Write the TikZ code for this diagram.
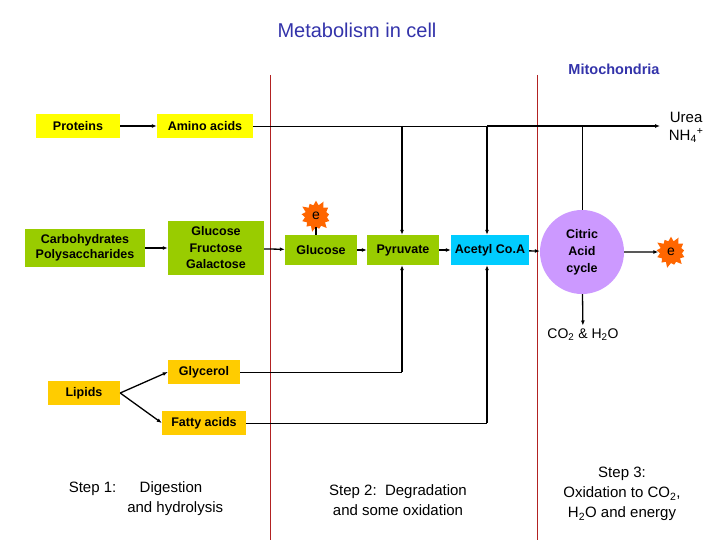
\documentclass[tikz,border=0pt]{standalone}
\usepackage{fontspec}
\setmainfont{Liberation Sans}
\usetikzlibrary{shapes.symbols,arrows.meta}
\definecolor{ttl}{HTML}{3333AA}
\definecolor{yel}{HTML}{FFFF00}
\definecolor{grn}{HTML}{99CC00}
\definecolor{cya}{HTML}{00CCFF}
\definecolor{lav}{HTML}{CC99FF}
\definecolor{org}{HTML}{FF6600}
\definecolor{gld}{HTML}{FFCC00}
\definecolor{rl}{HTML}{B22222}
\begin{document}
\begin{tikzpicture}[x=1pt,y=-1pt,
 box/.style={draw=none,inner sep=0pt,align=center,font=\fontsize{12.5}{14.5}\selectfont\bfseries},
 ar/.style={-{Latex[length=5pt,width=4pt]},line width=1.3pt},
 ln/.style={line width=0.8pt},
 star/.style={starburst,starburst points=13,starburst point height=6pt,fill=org,draw=none,minimum size=34pt,inner sep=0pt,font=\fontsize{14}{16}\selectfont},
 txt/.style={align=center,font=\fontsize{14}{16}\selectfont}]
\useasboundingbox (0,0) rectangle (720,540);
\draw[rl,line width=0.6pt] (270,75) -- (270,540);
\draw[rl,line width=0.6pt] (537,75) -- (537,540);
\node[text=ttl,font=\fontsize{20}{24}\selectfont] (title) at (357,30) {Metabolism in cell};
\node[text=ttl,font=\fontsize{14.5}{17}\selectfont\bfseries] (mito) at (614,69) {Mitochondria};
\node[box,fill=yel,minimum width=84,minimum height=24] (prot) at (78,126) {Proteins};
\node[box,fill=yel,minimum width=96,minimum height=24] (amino) at (205,126) {Amino acids};
\node[box,fill=grn,minimum width=120,minimum height=38] (carb) at (85,248) {Carbohydrates\\Polysaccharides};
\node[box,fill=grn,minimum width=96,minimum height=54,font=\fontsize{12.5}{16.5}\selectfont\bfseries] (gfg) at (216,248) {Glucose\\Fructose\\Galactose};
\node[box,fill=grn,minimum width=72,minimum height=30] (glu) at (321,250) {Glucose};
\node[box,fill=grn,minimum width=72,minimum height=30] (pyr) at (403,250) {Pyruvate};
\node[box,fill=cya,minimum width=78,minimum height=30] (acc) at (490,250) {Acetyl Co.A};
\node[box,circle,fill=lav,minimum size=84,font=\fontsize{12.5}{17}\selectfont\bfseries] (cac) at (582,252) {Citric\\Acid\\cycle};
\node[star] (e1) at (316,216) {e};
\node[star] (e2) at (671,252) {e};
\node[txt] (co2) at (583,335) {CO\textsubscript{2} \& H\textsubscript{2}O};
\node[txt,anchor=east,font=\fontsize{15}{18}\selectfont] (urea) at (707,127) {Urea\\NH\textsubscript{4}\textsuperscript{+}};
\node[box,fill=gld,minimum width=72,minimum height=24] (lip) at (84,393) {Lipids};
\node[box,fill=gld,minimum width=72,minimum height=24] (gly) at (204,372) {Glycerol};
\node[box,fill=gld,minimum width=84,minimum height=24] (fat) at (204,423) {Fatty acids};
\node[txt,font=\fontsize{15}{20}\selectfont,align=left] (s1) at (146,499) {Step 1:\quad\ \ Digestion\\\hspace{3.9em}and hydrolysis};
\node[txt,font=\fontsize{15}{20}\selectfont] (s2) at (398,500) {Step 2:\ \ Degradation\\and some oxidation};
\node[txt,font=\fontsize{15}{20}\selectfont] (s3) at (622,494) {Step 3:\\Oxidation to CO\textsubscript{2},\\H\textsubscript{2}O and energy};
\coordinate (j1) at (402,126);
\coordinate (j2) at (487,126);
\coordinate (u) at (660,126);
\draw[ar] (prot) -- (amino);
\draw[ar] (carb) -- (gfg);
\draw[ar] (gfg) -- (glu);
\draw[ar] (glu) -- (pyr);
\draw[ar] (pyr) -- (acc);
\draw[ar] (acc) -- (cac);
\draw[ar] (cac) -- (e2);
\draw[ar] (cac) -- (co2);
\draw[line width=1.2pt] (e1.south) -- (glu.north -| e1.south);
\draw[ln] (amino) -- (j2);
\draw[ar] (j2) -- (u);
\draw[ln] (cac.north) -- (cac.north |- u);
\draw[ar] (j1) -- (pyr.north -| j1);
\draw[ar] (j2) -- (acc.north -| j2);
\draw[ar] (lip.east) -- (gly.west);
\draw[ar] (lip.east) -- (fat.west);
\draw[ln] (gly) -- (402,372);
\draw[ar] (402,372) -- (pyr.south -| j1);
\draw[ln] (fat) -- (487,423);
\draw[ar] (487,423) -- (acc.south -| j2);
\end{tikzpicture}
\end{document}
